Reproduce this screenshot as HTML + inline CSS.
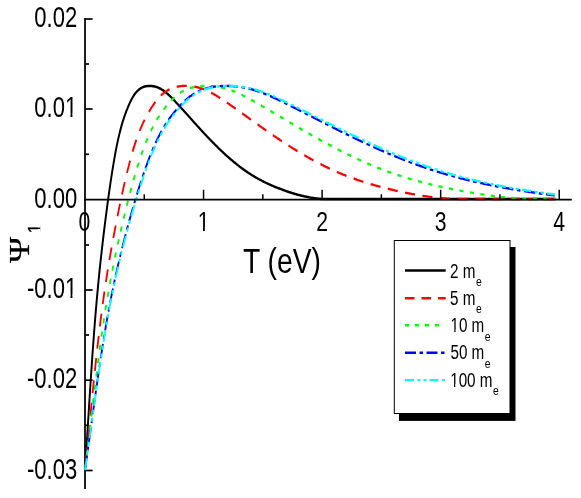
<!DOCTYPE html>
<html><head><meta charset="utf-8"><style>
html,body{margin:0;padding:0;background:#fff;}
svg{display:block;font-family:"Liberation Sans",sans-serif;will-change:transform;}
</style></head><body>
<svg width="581" height="498" viewBox="0 0 581 498">
<rect width="581" height="498" fill="#fff"/>
<g stroke="#000" stroke-width="1.75" fill="none"><line x1="85" y1="18" x2="85" y2="489"/></g>
<g stroke="#000" stroke-width="1.7" fill="none"><line x1="85" y1="19" x2="92.6" y2="19"/><line x1="85" y1="109" x2="92.6" y2="109"/><line x1="85" y1="290" x2="92.6" y2="290"/><line x1="85" y1="380.2" x2="92.6" y2="380.2"/><line x1="85" y1="470.5" x2="92.6" y2="470.5"/><line x1="85" y1="64" x2="89" y2="64"/><line x1="85" y1="154.3" x2="89" y2="154.3"/><line x1="85" y1="245" x2="89" y2="245"/><line x1="85" y1="335" x2="89" y2="335"/><line x1="85" y1="425.3" x2="89" y2="425.3"/></g>
<g fill="none" stroke-width="2.35" stroke-linejoin="round" transform="scale(0.78 1)">
<path d="M108.97 470.0 L109.06 469.0 L109.15 468.0 L109.23 467.0 L109.31 466.0 L109.40 465.0 L109.48 464.0 L109.57 463.0 L109.65 462.0 L109.74 461.0 L109.82 460.0 L109.90 459.0 L109.99 458.0 L110.07 457.0 L110.15 456.0 L110.24 455.0 L110.32 454.0 L110.40 453.0 L110.48 452.0 L110.57 451.0 L110.65 450.0 L110.73 449.0 L110.81 448.0 L110.89 447.0 L110.97 446.0 L111.06 445.0 L111.14 444.0 L111.22 443.0 L111.30 442.0 L111.38 441.0 L111.46 440.0 L111.54 439.0 L111.62 438.0 L111.70 437.0 L111.79 436.0 L111.87 435.0 L111.95 434.0 L112.03 433.0 L112.11 432.0 L112.19 431.0 L112.27 430.0 L112.35 429.0 L112.43 428.0 L112.51 427.0 L112.59 426.0 L112.67 425.0 L112.75 424.0 L112.83 423.0 L112.91 422.0 L112.99 421.0 L113.07 420.0 L113.15 419.0 L113.23 418.0 L113.31 417.0 L113.39 416.0 L113.47 415.0 L113.55 414.0 L113.63 413.0 L113.71 412.0 L113.79 411.0 L113.87 410.0 L113.95 409.0 L114.03 408.0 L114.12 407.0 L114.20 406.0 L114.28 405.0 L114.36 404.0 L114.44 403.0 L114.52 402.0 L114.60 401.0 L114.68 400.0 L114.76 399.0 L114.84 398.0 L114.93 397.0 L115.01 396.0 L115.09 395.0 L115.17 394.0 L115.25 393.0 L115.33 392.0 L115.42 391.0 L115.50 390.0 L115.58 389.0 L115.66 388.0 L115.75 387.0 L115.83 386.0 L115.91 385.0 L116.00 384.0 L116.08 383.0 L116.16 382.0 L116.25 381.0 L116.33 380.0 L116.42 379.0 L116.50 378.0 L116.58 377.0 L116.67 376.0 L116.75 375.0 L116.84 374.0 L116.92 373.0 L117.01 372.0 L117.10 371.0 L117.18 370.0 L117.27 369.0 L117.35 368.0 L117.44 367.0 L117.53 366.0 L117.62 365.0 L117.70 364.0 L117.79 363.0 L117.88 362.0 L117.97 361.0 L118.06 360.0 L118.14 359.0 L118.23 358.0 L118.32 357.0 L118.41 356.0 L118.50 355.0 L118.59 354.0 L118.68 353.0 L118.77 352.0 L118.87 351.0 L118.96 350.0 L119.05 349.0 L119.14 348.0 L119.23 347.0 L119.33 346.0 L119.42 345.0 L119.51 344.0 L119.61 343.0 L119.70 342.0 L119.80 341.0 L119.89 340.0 L119.99 339.0 L120.08 338.0 L120.18 337.0 L120.27 336.0 L120.37 335.0 L120.47 334.0 L120.57 333.0 L120.67 332.0 L120.76 331.0 L120.86 330.0 L120.96 329.0 L121.06 328.0 L121.16 327.0 L121.26 326.0 L121.36 325.0 L121.47 324.0 L121.57 323.0 L121.67 322.0 L121.77 321.0 L121.88 320.0 L121.98 319.0 L122.08 318.0 L122.19 317.0 L122.29 316.0 L122.40 315.0 L122.51 314.0 L122.61 313.0 L122.72 312.0 L122.83 311.0 L122.94 310.0 L123.05 309.0 L123.16 308.0 L123.27 307.0 L123.38 306.0 L123.49 305.0 L123.60 304.0 L123.71 303.0 L123.82 302.0 L123.94 301.0 L124.05 300.0 L124.16 299.0 L124.28 298.0 L124.40 297.0 L124.51 296.0 L124.63 295.0 L124.75 294.0 L124.86 293.0 L124.98 292.0 L125.10 291.0 L125.22 290.0 L125.34 289.0 L125.46 288.0 L125.58 287.0 L125.71 286.0 L125.83 285.0 L125.95 284.0 L126.08 283.0 L126.20 282.0 L126.33 281.0 L126.45 280.0 L126.58 279.0 L126.71 278.0 L126.83 277.0 L126.96 276.0 L127.09 275.0 L127.22 274.0 L127.35 273.0 L127.48 272.0 L127.62 271.0 L127.75 270.0 L127.88 269.0 L128.02 268.0 L128.15 267.0 L128.29 266.0 L128.42 265.0 L128.56 264.0 L128.69 263.0 L128.83 262.0 L128.97 261.0 L129.11 260.0 L129.25 259.0 L129.39 258.0 L129.53 257.0 L129.67 256.0 L129.81 255.0 L129.96 254.0 L130.10 253.0 L130.24 252.0 L130.39 251.0 L130.53 250.0 L130.68 249.0 L130.82 248.0 L130.97 247.0 L131.12 246.0 L131.27 245.0 L131.42 244.0 L131.57 243.0 L131.71 242.0 L131.87 241.0 L132.02 240.0 L132.17 239.0 L132.32 238.0 L132.47 237.0 L132.63 236.0 L132.78 235.0 L132.93 234.0 L133.09 233.0 L133.24 232.0 L133.40 231.0 L133.56 230.0 L133.71 229.0 L133.87 228.0 L134.03 227.0 L134.19 226.0 L134.35 225.0 L134.51 224.0 L134.67 223.0 L134.83 222.0 L134.99 221.0 L135.15 220.0 L135.32 219.0 L135.48 218.0 L135.64 217.0 L135.81 216.0 L135.97 215.0 L136.14 214.0 L136.30 213.0 L136.47 212.0 L136.64 211.0 L136.81 210.0 L136.97 209.0 L137.14 208.0 L137.31 207.0 L137.48 206.0 L137.65 205.0 L137.82 204.0 L138.00 203.0 L138.17 202.0 L138.34 201.0 L138.52 200.0 L138.69 199.0 L138.87 198.0 L139.05 197.0 L139.22 196.0 L139.40 195.0 L139.58 194.0 L139.76 193.0 L139.94 192.0 L140.13 191.0 L140.31 190.0 L140.49 189.0 L140.68 188.0 L140.86 187.0 L141.05 186.0 L141.24 185.0 L141.43 184.0 L141.62 183.0 L141.81 182.0 L142.00 181.0 L142.19 180.0 L142.39 179.0 L142.58 178.0 L142.78 177.0 L142.98 176.0 L143.18 175.0 L143.38 174.0 L143.58 173.0 L143.78 172.0 L143.99 171.0 L144.19 170.0 L144.40 169.0 L144.61 168.0 L144.82 167.0 L145.03 166.0 L145.24 165.0 L145.45 164.0 L145.67 163.0 L145.88 162.0 L146.10 161.0 L146.32 160.0 L146.54 159.0 L146.76 158.0 L146.99 157.0 L147.21 156.0 L147.44 155.0 L147.67 154.0 L147.90 153.0 L148.14 152.0 L148.38 151.0 L148.62 150.0 L148.86 149.0 L149.12 148.0 L149.37 147.0 L149.63 146.0 L149.90 145.0 L150.17 144.0 L150.44 143.0 L150.72 142.0 L151.00 141.0 L151.28 140.0 L151.57 139.0 L151.86 138.0 L152.16 137.0 L152.46 136.0 L152.76 135.0 L153.07 134.0 L153.38 133.0 L153.70 132.0 L154.02 131.0 L154.34 130.0 L154.68 129.0 L155.02 128.0 L155.36 127.0 L155.71 126.0 L156.07 125.0 L156.44 124.0 L156.82 123.0 L157.20 122.0 L157.60 121.0 L158.00 120.0 L158.42 119.0 L158.84 118.0 L159.23 117.1 L159.62 116.2 L160.00 115.4 L160.38 114.6 L160.77 113.7 L161.15 112.9 L161.54 112.1 L161.92 111.3 L162.31 110.5 L162.69 109.8 L163.08 109.0 L163.46 108.3 L163.97 107.3 L164.49 106.3 L165.00 105.4 L165.51 104.5 L166.03 103.6 L166.54 102.7 L167.05 101.9 L167.56 101.0 L168.08 100.2 L168.59 99.5 L169.10 98.7 L169.62 98.0 L170.13 97.3 L170.77 96.5 L171.41 95.7 L172.05 94.9 L172.69 94.2 L173.33 93.5 L173.97 92.9 L174.74 92.2 L175.51 91.5 L176.28 90.9 L177.05 90.3 L177.95 89.7 L178.85 89.1 L179.74 88.7 L180.64 88.2 L181.54 87.8 L182.56 87.4 L183.59 87.1 L184.62 86.8 L185.64 86.6 L186.67 86.3 L187.69 86.2 L188.72 86.1 L189.74 86.0 L190.77 85.9 L191.79 85.9 L192.82 85.9 L193.85 86.0 L194.87 86.1 L195.90 86.2 L196.92 86.3 L197.95 86.4 L198.97 86.6 L200.00 86.9 L201.03 87.1 L202.05 87.4 L203.08 87.7 L204.10 88.1 L205.13 88.5 L206.15 88.9 L207.05 89.3 L207.95 89.8 L208.85 90.2 L209.74 90.7 L210.64 91.2 L211.54 91.8 L212.44 92.3 L213.33 92.9 L214.23 93.5 L215.13 94.1 L215.90 94.6 L216.67 95.2 L217.44 95.8 L218.21 96.3 L218.97 96.9 L219.74 97.5 L220.51 98.1 L221.28 98.7 L222.05 99.3 L222.82 100.0 L223.59 100.6 L224.36 101.2 L225.13 101.9 L225.90 102.5 L226.67 103.2 L227.44 103.8 L228.21 104.5 L228.97 105.1 L229.74 105.8 L230.51 106.4 L231.28 107.1 L232.05 107.7 L232.82 108.4 L233.59 109.1 L234.36 109.7 L235.13 110.4 L235.90 111.1 L236.67 111.7 L237.44 112.4 L238.21 113.1 L238.97 113.7 L239.74 114.4 L240.51 115.1 L241.28 115.7 L242.05 116.4 L242.82 117.1 L243.59 117.7 L244.36 118.4 L245.13 119.1 L245.90 119.7 L246.67 120.4 L247.44 121.1 L248.21 121.8 L248.97 122.4 L249.74 123.1 L250.51 123.8 L251.28 124.4 L252.05 125.1 L252.82 125.8 L253.59 126.4 L254.36 127.1 L255.13 127.7 L255.90 128.4 L256.67 129.1 L257.44 129.7 L258.21 130.4 L258.97 131.0 L259.74 131.7 L260.51 132.3 L261.28 133.0 L262.05 133.6 L262.82 134.3 L263.59 134.9 L264.36 135.5 L265.13 136.2 L265.90 136.8 L266.67 137.4 L267.44 138.1 L268.21 138.7 L268.97 139.3 L269.74 139.9 L270.51 140.6 L271.28 141.2 L272.05 141.8 L272.82 142.4 L273.59 143.0 L274.36 143.6 L275.13 144.2 L275.90 144.8 L276.67 145.4 L277.44 146.0 L278.21 146.6 L278.97 147.2 L279.74 147.8 L280.51 148.4 L281.28 149.0 L282.05 149.5 L282.82 150.1 L283.59 150.7 L284.36 151.3 L285.13 151.8 L285.90 152.4 L286.67 152.9 L287.44 153.5 L288.21 154.1 L288.97 154.6 L289.74 155.2 L290.51 155.7 L291.28 156.2 L292.05 156.8 L292.82 157.3 L293.72 157.9 L294.62 158.5 L295.51 159.1 L296.41 159.7 L297.31 160.3 L298.21 160.9 L299.10 161.5 L300.00 162.1 L300.90 162.7 L301.79 163.2 L302.69 163.8 L303.59 164.4 L304.49 164.9 L305.38 165.5 L306.28 166.0 L307.18 166.6 L308.08 167.1 L308.97 167.6 L309.87 168.1 L310.77 168.7 L311.67 169.2 L312.56 169.7 L313.46 170.2 L314.36 170.7 L315.26 171.2 L316.15 171.6 L317.05 172.1 L317.95 172.6 L318.85 173.0 L319.74 173.5 L320.64 173.9 L321.54 174.4 L322.44 174.8 L323.33 175.3 L324.23 175.7 L325.13 176.1 L326.03 176.5 L326.92 177.0 L327.82 177.4 L328.72 177.8 L329.62 178.2 L330.51 178.6 L331.41 178.9 L332.44 179.4 L333.46 179.8 L334.49 180.2 L335.51 180.7 L336.54 181.1 L337.56 181.5 L338.59 181.9 L339.62 182.3 L340.64 182.7 L341.67 183.1 L342.69 183.4 L343.72 183.8 L344.74 184.2 L345.77 184.5 L346.79 184.9 L347.82 185.3 L348.85 185.6 L349.87 185.9 L350.90 186.3 L351.92 186.6 L352.95 187.0 L353.97 187.3 L355.00 187.6 L356.03 187.9 L357.05 188.2 L358.08 188.5 L359.10 188.8 L360.13 189.1 L361.15 189.4 L362.18 189.7 L363.21 190.0 L364.23 190.3 L365.26 190.6 L366.28 190.9 L367.31 191.2 L368.33 191.4 L369.36 191.7 L370.38 192.0 L371.41 192.2 L372.44 192.5 L373.46 192.7 L374.49 193.0 L375.51 193.2 L376.54 193.5 L377.56 193.7 L378.59 194.0 L379.62 194.2 L380.64 194.4 L381.67 194.7 L382.69 194.9 L383.72 195.1 L384.74 195.3 L385.77 195.5 L386.79 195.7 L387.82 195.9 L388.85 196.1 L389.87 196.3 L390.90 196.4 L391.92 196.6 L392.95 196.8 L393.97 197.0 L395.00 197.1 L396.03 197.3 L397.05 197.4 L398.08 197.6 L399.10 197.7 L400.13 197.8 L401.15 198.0 L402.18 198.1 L403.21 198.2 L404.23 198.3 L405.26 198.4 L406.28 198.5 L407.31 198.6 L408.33 198.7 L409.36 198.8 L410.38 198.8 L411.41 198.9 L412.44 198.9 L413.46 199.0 L413.46 199.0 L712.05 199.0" stroke="#000" stroke-width="2.5"/>
<path d="M108.97 470.0 L109.11 469.0 L109.24 468.0 L109.37 467.0 L109.50 466.0 L109.64 465.0 L109.77 464.0 L109.90 463.0 L110.03 462.0 L110.16 461.0 L110.29 460.0 L110.42 459.0 L110.55 458.0 L110.68 457.0 L110.81 456.0 L110.94 455.0 L111.06 454.0 L111.19 453.0 L111.32 452.0 L111.45 451.0 L111.58 450.0 L111.70 449.0 L111.83 448.0 L111.96 447.0 L112.08 446.0 L112.21 445.0 L112.34 444.0 L112.46 443.0 L112.59 442.0 L112.72 441.0 L112.84 440.0 L112.97 439.0 L113.09 438.0 L113.22 437.0 L113.35 436.0 L113.47 435.0 L113.60 434.0 L113.72 433.0 L113.85 432.0 L113.97 431.0 L114.10 430.0 L114.22 429.0 L114.35 428.0 L114.47 427.0 L114.60 426.0 L114.72 425.0 L114.84 424.0 L114.97 423.0 L115.09 422.0 L115.22 421.0 L115.34 420.0 L115.47 419.0 L115.59 418.0 L115.72 417.0 L115.84 416.0 L115.97 415.0 L116.09 414.0 L116.22 413.0 L116.34 412.0 L116.47 411.0 L116.59 410.0 L116.72 409.0 L116.84 408.0 L116.97 407.0 L117.09 406.0 L117.22 405.0 L117.34 404.0 L117.47 403.0 L117.60 402.0 L117.72 401.0 L117.85 400.0 L117.98 399.0 L118.10 398.0 L118.23 397.0 L118.36 396.0 L118.48 395.0 L118.61 394.0 L118.74 393.0 L118.86 392.0 L118.99 391.0 L119.12 390.0 L119.25 389.0 L119.38 388.0 L119.51 387.0 L119.63 386.0 L119.76 385.0 L119.89 384.0 L120.02 383.0 L120.15 382.0 L120.28 381.0 L120.41 380.0 L120.54 379.0 L120.68 378.0 L120.81 377.0 L120.94 376.0 L121.07 375.0 L121.20 374.0 L121.34 373.0 L121.47 372.0 L121.60 371.0 L121.74 370.0 L121.87 369.0 L122.01 368.0 L122.14 367.0 L122.28 366.0 L122.41 365.0 L122.55 364.0 L122.68 363.0 L122.82 362.0 L122.96 361.0 L123.10 360.0 L123.23 359.0 L123.37 358.0 L123.51 357.0 L123.65 356.0 L123.79 355.0 L123.93 354.0 L124.07 353.0 L124.21 352.0 L124.35 351.0 L124.50 350.0 L124.64 349.0 L124.78 348.0 L124.93 347.0 L125.07 346.0 L125.22 345.0 L125.36 344.0 L125.51 343.0 L125.65 342.0 L125.80 341.0 L125.95 340.0 L126.10 339.0 L126.25 338.0 L126.40 337.0 L126.55 336.0 L126.70 335.0 L126.85 334.0 L127.00 333.0 L127.15 332.0 L127.31 331.0 L127.46 330.0 L127.62 329.0 L127.77 328.0 L127.93 327.0 L128.08 326.0 L128.24 325.0 L128.40 324.0 L128.56 323.0 L128.72 322.0 L128.88 321.0 L129.04 320.0 L129.20 319.0 L129.36 318.0 L129.52 317.0 L129.69 316.0 L129.85 315.0 L130.02 314.0 L130.18 313.0 L130.35 312.0 L130.52 311.0 L130.69 310.0 L130.86 309.0 L131.03 308.0 L131.20 307.0 L131.37 306.0 L131.54 305.0 L131.72 304.0 L131.89 303.0 L132.06 302.0 L132.24 301.0 L132.42 300.0 L132.60 299.0 L132.77 298.0 L132.95 297.0 L133.13 296.0 L133.32 295.0 L133.50 294.0 L133.68 293.0 L133.87 292.0 L134.05 291.0 L134.24 290.0 L134.42 289.0 L134.61 288.0 L134.80 287.0 L134.99 286.0 L135.18 285.0 L135.37 284.0 L135.57 283.0 L135.76 282.0 L135.96 281.0 L136.15 280.0 L136.35 279.0 L136.55 278.0 L136.75 277.0 L136.95 276.0 L137.15 275.0 L137.35 274.0 L137.55 273.0 L137.76 272.0 L137.96 271.0 L138.17 270.0 L138.38 269.0 L138.58 268.0 L138.79 267.0 L139.00 266.0 L139.21 265.0 L139.43 264.0 L139.64 263.0 L139.85 262.0 L140.07 261.0 L140.28 260.0 L140.50 259.0 L140.72 258.0 L140.94 257.0 L141.16 256.0 L141.38 255.0 L141.60 254.0 L141.82 253.0 L142.05 252.0 L142.27 251.0 L142.50 250.0 L142.72 249.0 L142.95 248.0 L143.18 247.0 L143.41 246.0 L143.64 245.0 L143.87 244.0 L144.10 243.0 L144.34 242.0 L144.57 241.0 L144.80 240.0 L145.04 239.0 L145.28 238.0 L145.51 237.0 L145.75 236.0 L145.99 235.0 L146.23 234.0 L146.47 233.0 L146.71 232.0 L146.96 231.0 L147.20 230.0 L147.45 229.0 L147.69 228.0 L147.94 227.0 L148.18 226.0 L148.43 225.0 L148.68 224.0 L148.93 223.0 L149.18 222.0 L149.43 221.0 L149.68 220.0 L149.94 219.0 L150.19 218.0 L150.45 217.0 L150.70 216.0 L150.96 215.0 L151.21 214.0 L151.47 213.0 L151.73 212.0 L151.99 211.0 L152.25 210.0 L152.51 209.0 L152.78 208.0 L153.04 207.0 L153.30 206.0 L153.57 205.0 L153.84 204.0 L154.10 203.0 L154.37 202.0 L154.64 201.0 L154.91 200.0 L155.19 199.0 L155.46 198.0 L155.74 197.0 L156.01 196.0 L156.29 195.0 L156.57 194.0 L156.85 193.0 L157.13 192.0 L157.41 191.0 L157.70 190.0 L157.99 189.0 L158.27 188.0 L158.56 187.0 L158.85 186.0 L159.15 185.0 L159.44 184.0 L159.73 183.0 L160.03 182.0 L160.33 181.0 L160.63 180.0 L160.93 179.0 L161.24 178.0 L161.54 177.0 L161.85 176.0 L162.16 175.0 L162.47 174.0 L162.79 173.0 L163.10 172.0 L163.42 171.0 L163.74 170.0 L164.06 169.0 L164.38 168.0 L164.71 167.0 L165.04 166.0 L165.37 165.0 L165.70 164.0 L166.03 163.0 L166.37 162.0 L166.71 161.0 L167.05 160.0 L167.39 159.0 L167.74 158.0 L168.08 157.0 L168.43 156.0 L168.79 155.0 L169.15 154.0 L169.51 153.0 L169.88 152.0 L170.25 151.0 L170.62 150.0 L171.00 149.0 L171.39 148.0 L171.79 147.0 L172.20 146.0 L172.61 145.0 L173.03 144.0 L173.45 143.0 L173.88 142.0 L174.32 141.0 L174.76 140.0 L175.21 139.0 L175.66 138.0 L176.12 137.0 L176.59 136.0 L177.06 135.0 L177.42 134.2 L177.78 133.5 L178.15 132.8 L178.52 132.0 L178.89 131.2 L179.27 130.5 L179.65 129.8 L180.04 129.0 L180.44 128.2 L180.84 127.5 L181.24 126.8 L181.65 126.0 L182.07 125.2 L182.50 124.5 L182.93 123.8 L183.37 123.0 L183.82 122.2 L184.28 121.5 L184.74 120.8 L185.21 120.0 L185.70 119.2 L186.19 118.5 L186.72 117.7 L187.32 116.8 L187.92 116.0 L188.52 115.1 L189.12 114.3 L189.71 113.5 L190.31 112.6 L190.91 111.9 L191.51 111.1 L192.11 110.3 L192.71 109.5 L193.30 108.8 L193.90 108.0 L194.50 107.3 L195.10 106.6 L195.70 105.9 L196.29 105.2 L196.89 104.5 L197.49 103.8 L198.09 103.1 L198.89 102.3 L199.68 101.4 L200.48 100.6 L201.28 99.8 L202.08 99.1 L202.87 98.3 L203.67 97.6 L204.47 97.0 L205.26 96.3 L206.06 95.7 L206.86 95.1 L207.66 94.5 L208.45 93.9 L209.25 93.4 L210.05 92.9 L211.05 92.3 L212.04 91.7 L213.04 91.2 L214.04 90.7 L215.03 90.2 L216.03 89.8 L217.03 89.4 L218.02 89.0 L219.02 88.7 L220.02 88.3 L221.01 88.0 L222.01 87.8 L223.01 87.5 L224.00 87.3 L225.00 87.1 L226.20 86.9 L227.39 86.7 L228.59 86.5 L229.79 86.3 L230.98 86.2 L232.18 86.1 L233.37 86.0 L234.57 86.0 L235.77 85.9 L236.96 85.9 L238.16 85.9 L239.36 85.9 L240.55 86.0 L241.75 86.0 L242.94 86.1 L244.14 86.2 L245.34 86.2 L246.53 86.4 L247.73 86.5 L248.92 86.6 L250.12 86.8 L251.32 87.0 L252.51 87.2 L253.71 87.4 L254.71 87.6 L255.70 87.8 L256.70 88.1 L257.70 88.3 L258.69 88.5 L259.69 88.8 L260.69 89.1 L261.68 89.4 L262.68 89.7 L263.68 90.0 L264.67 90.4 L265.67 90.7 L266.67 91.1 L267.66 91.4 L268.66 91.8 L269.66 92.2 L270.65 92.6 L271.65 93.1 L272.65 93.5 L273.64 93.9 L274.64 94.4 L275.64 94.8 L276.64 95.3 L277.63 95.8 L278.63 96.2 L279.63 96.7 L280.62 97.2 L281.62 97.7 L282.62 98.2 L283.61 98.7 L284.61 99.2 L285.61 99.8 L286.60 100.3 L287.60 100.8 L288.60 101.3 L289.59 101.9 L290.59 102.4 L291.59 103.0 L292.58 103.5 L293.58 104.0 L294.58 104.6 L295.57 105.1 L296.57 105.7 L297.57 106.2 L298.56 106.8 L299.56 107.3 L300.56 107.9 L301.56 108.4 L302.55 109.0 L303.55 109.5 L304.55 110.1 L305.54 110.6 L306.54 111.2 L307.54 111.7 L308.53 112.3 L309.53 112.8 L310.53 113.4 L311.52 113.9 L312.52 114.5 L313.52 115.1 L314.51 115.6 L315.51 116.2 L316.51 116.7 L317.50 117.3 L318.50 117.8 L319.50 118.4 L320.49 119.0 L321.49 119.5 L322.49 120.1 L323.48 120.6 L324.48 121.2 L325.48 121.8 L326.48 122.3 L327.47 122.9 L328.47 123.4 L329.47 124.0 L330.46 124.5 L331.46 125.1 L332.46 125.6 L333.45 126.2 L334.45 126.7 L335.45 127.3 L336.44 127.8 L337.44 128.4 L338.44 128.9 L339.43 129.5 L340.43 130.0 L341.43 130.6 L342.42 131.1 L343.42 131.7 L344.42 132.2 L345.41 132.8 L346.41 133.3 L347.41 133.8 L348.40 134.4 L349.40 134.9 L350.40 135.4 L351.39 136.0 L352.39 136.5 L353.39 137.0 L354.39 137.5 L355.38 138.1 L356.38 138.6 L357.38 139.1 L358.37 139.6 L359.37 140.2 L360.37 140.7 L361.36 141.2 L362.36 141.7 L363.36 142.2 L364.35 142.7 L365.35 143.2 L366.35 143.7 L367.34 144.2 L368.34 144.7 L369.34 145.2 L370.33 145.7 L371.33 146.2 L372.33 146.7 L373.32 147.2 L374.32 147.7 L375.32 148.2 L376.31 148.7 L377.31 149.2 L378.31 149.6 L379.31 150.1 L380.30 150.6 L381.30 151.1 L382.30 151.5 L383.29 152.0 L384.29 152.5 L385.29 152.9 L386.28 153.4 L387.28 153.9 L388.28 154.3 L389.27 154.8 L390.27 155.2 L391.27 155.7 L392.26 156.1 L393.26 156.6 L394.26 157.0 L395.25 157.5 L396.25 157.9 L397.25 158.4 L398.24 158.8 L399.24 159.2 L400.24 159.7 L401.23 160.1 L402.23 160.5 L403.23 160.9 L404.23 161.4 L405.22 161.8 L406.22 162.2 L407.22 162.6 L408.21 163.0 L409.21 163.4 L410.21 163.8 L411.20 164.2 L412.20 164.6 L413.20 165.0 L414.19 165.4 L415.19 165.8 L416.19 166.2 L417.18 166.6 L418.18 166.9 L419.18 167.3 L420.17 167.7 L421.17 168.1 L422.17 168.4 L423.16 168.8 L424.16 169.2 L425.16 169.5 L426.15 169.9 L427.15 170.2 L428.15 170.6 L429.14 170.9 L430.14 171.3 L431.14 171.6 L432.14 172.0 L433.13 172.3 L434.13 172.6 L435.13 173.0 L436.12 173.3 L437.12 173.6 L438.12 173.9 L439.11 174.3 L440.11 174.6 L441.11 174.9 L442.10 175.2 L443.10 175.5 L444.10 175.8 L445.09 176.1 L446.09 176.4 L447.09 176.7 L448.08 177.0 L449.08 177.3 L450.08 177.6 L451.07 177.9 L452.07 178.2 L453.07 178.4 L454.06 178.7 L455.06 179.0 L456.06 179.3 L457.06 179.5 L458.05 179.8 L459.05 180.1 L460.05 180.3 L461.04 180.6 L462.04 180.9 L463.04 181.1 L464.03 181.4 L465.03 181.6 L466.03 181.9 L467.02 182.1 L468.02 182.4 L469.02 182.6 L470.01 182.9 L471.01 183.1 L472.01 183.3 L473.00 183.6 L474.00 183.8 L475.00 184.0 L475.99 184.3 L476.99 184.5 L477.99 184.7 L478.98 184.9 L479.98 185.2 L480.98 185.4 L481.98 185.6 L482.97 185.8 L483.97 186.0 L484.97 186.2 L485.96 186.5 L486.96 186.7 L487.96 186.9 L488.95 187.1 L489.95 187.3 L490.95 187.5 L491.94 187.7 L492.94 187.9 L493.94 188.1 L494.93 188.3 L495.93 188.5 L496.93 188.7 L497.92 188.8 L498.92 189.0 L500.12 189.3 L501.31 189.5 L502.51 189.7 L503.71 189.9 L504.90 190.1 L506.10 190.4 L507.29 190.6 L508.49 190.8 L509.69 191.0 L510.88 191.2 L512.08 191.4 L513.27 191.6 L514.47 191.8 L515.67 192.0 L516.86 192.2 L518.06 192.4 L519.26 192.6 L520.45 192.8 L521.65 193.0 L522.84 193.2 L524.04 193.3 L525.24 193.5 L526.43 193.7 L527.63 193.9 L528.82 194.1 L530.02 194.2 L531.22 194.4 L532.41 194.6 L533.61 194.7 L534.81 194.9 L536.00 195.1 L537.20 195.2 L538.39 195.4 L539.59 195.5 L540.79 195.7 L541.98 195.8 L543.18 196.0 L544.37 196.1 L545.57 196.2 L546.77 196.4 L547.96 196.5 L549.16 196.6 L550.36 196.8 L551.55 196.9 L552.75 197.0 L553.94 197.1 L555.14 197.3 L556.34 197.4 L557.53 197.5 L558.73 197.6 L559.92 197.7 L561.12 197.8 L562.32 197.9 L563.51 198.0 L564.71 198.1 L565.91 198.2 L567.10 198.2 L568.30 198.3 L569.49 198.4 L570.69 198.5 L571.89 198.5 L573.08 198.6 L574.28 198.7 L575.47 198.7 L576.67 198.8 L577.87 198.8 L579.06 198.9 L580.26 198.9 L581.46 199.0 L582.45 199.0 L712.05 199.0" stroke="#f00" stroke-dasharray="12.9 9.6" stroke-dashoffset="-9.9"/>
<path d="M108.97 470.0 L109.13 469.0 L109.29 468.0 L109.45 467.0 L109.61 466.0 L109.77 465.0 L109.93 464.0 L110.09 463.0 L110.25 462.0 L110.40 461.0 L110.56 460.0 L110.72 459.0 L110.87 458.0 L111.03 457.0 L111.18 456.0 L111.34 455.0 L111.49 454.0 L111.65 453.0 L111.80 452.0 L111.96 451.0 L112.11 450.0 L112.26 449.0 L112.42 448.0 L112.57 447.0 L112.72 446.0 L112.88 445.0 L113.03 444.0 L113.18 443.0 L113.33 442.0 L113.49 441.0 L113.64 440.0 L113.79 439.0 L113.94 438.0 L114.09 437.0 L114.24 436.0 L114.40 435.0 L114.55 434.0 L114.70 433.0 L114.85 432.0 L115.00 431.0 L115.15 430.0 L115.30 429.0 L115.45 428.0 L115.60 427.0 L115.75 426.0 L115.90 425.0 L116.05 424.0 L116.20 423.0 L116.35 422.0 L116.50 421.0 L116.65 420.0 L116.80 419.0 L116.96 418.0 L117.11 417.0 L117.26 416.0 L117.41 415.0 L117.56 414.0 L117.71 413.0 L117.86 412.0 L118.01 411.0 L118.16 410.0 L118.31 409.0 L118.46 408.0 L118.61 407.0 L118.76 406.0 L118.92 405.0 L119.07 404.0 L119.22 403.0 L119.37 402.0 L119.52 401.0 L119.68 400.0 L119.83 399.0 L119.98 398.0 L120.13 397.0 L120.29 396.0 L120.44 395.0 L120.59 394.0 L120.75 393.0 L120.90 392.0 L121.05 391.0 L121.21 390.0 L121.36 389.0 L121.52 388.0 L121.67 387.0 L121.83 386.0 L121.98 385.0 L122.14 384.0 L122.30 383.0 L122.45 382.0 L122.61 381.0 L122.77 380.0 L122.93 379.0 L123.08 378.0 L123.24 377.0 L123.40 376.0 L123.56 375.0 L123.72 374.0 L123.88 373.0 L124.04 372.0 L124.20 371.0 L124.36 370.0 L124.52 369.0 L124.69 368.0 L124.85 367.0 L125.01 366.0 L125.18 365.0 L125.34 364.0 L125.50 363.0 L125.67 362.0 L125.84 361.0 L126.00 360.0 L126.17 359.0 L126.33 358.0 L126.50 357.0 L126.67 356.0 L126.84 355.0 L127.01 354.0 L127.18 353.0 L127.35 352.0 L127.52 351.0 L127.69 350.0 L127.86 349.0 L128.04 348.0 L128.21 347.0 L128.38 346.0 L128.56 345.0 L128.73 344.0 L128.91 343.0 L129.09 342.0 L129.26 341.0 L129.44 340.0 L129.62 339.0 L129.80 338.0 L129.98 337.0 L130.16 336.0 L130.34 335.0 L130.53 334.0 L130.71 333.0 L130.89 332.0 L131.08 331.0 L131.26 330.0 L131.45 329.0 L131.64 328.0 L131.83 327.0 L132.02 326.0 L132.20 325.0 L132.40 324.0 L132.59 323.0 L132.78 322.0 L132.97 321.0 L133.17 320.0 L133.36 319.0 L133.56 318.0 L133.75 317.0 L133.95 316.0 L134.15 315.0 L134.35 314.0 L134.55 313.0 L134.75 312.0 L134.95 311.0 L135.16 310.0 L135.36 309.0 L135.56 308.0 L135.77 307.0 L135.98 306.0 L136.19 305.0 L136.39 304.0 L136.61 303.0 L136.82 302.0 L137.03 301.0 L137.24 300.0 L137.46 299.0 L137.67 298.0 L137.89 297.0 L138.11 296.0 L138.32 295.0 L138.54 294.0 L138.77 293.0 L138.99 292.0 L139.21 291.0 L139.44 290.0 L139.66 289.0 L139.89 288.0 L140.12 287.0 L140.34 286.0 L140.57 285.0 L140.81 284.0 L141.04 283.0 L141.27 282.0 L141.51 281.0 L141.74 280.0 L141.98 279.0 L142.22 278.0 L142.46 277.0 L142.70 276.0 L142.94 275.0 L143.19 274.0 L143.43 273.0 L143.68 272.0 L143.93 271.0 L144.18 270.0 L144.43 269.0 L144.68 268.0 L144.93 267.0 L145.18 266.0 L145.44 265.0 L145.69 264.0 L145.95 263.0 L146.21 262.0 L146.47 261.0 L146.73 260.0 L146.99 259.0 L147.25 258.0 L147.52 257.0 L147.78 256.0 L148.05 255.0 L148.32 254.0 L148.58 253.0 L148.85 252.0 L149.12 251.0 L149.40 250.0 L149.67 249.0 L149.94 248.0 L150.22 247.0 L150.50 246.0 L150.77 245.0 L151.05 244.0 L151.33 243.0 L151.61 242.0 L151.89 241.0 L152.18 240.0 L152.46 239.0 L152.75 238.0 L153.03 237.0 L153.32 236.0 L153.61 235.0 L153.90 234.0 L154.19 233.0 L154.48 232.0 L154.77 231.0 L155.07 230.0 L155.36 229.0 L155.66 228.0 L155.96 227.0 L156.25 226.0 L156.55 225.0 L156.85 224.0 L157.15 223.0 L157.46 222.0 L157.76 221.0 L158.06 220.0 L158.37 219.0 L158.67 218.0 L158.98 217.0 L159.29 216.0 L159.60 215.0 L159.91 214.0 L160.22 213.0 L160.53 212.0 L160.84 211.0 L161.16 210.0 L161.47 209.0 L161.79 208.0 L162.11 207.0 L162.43 206.0 L162.75 205.0 L163.07 204.0 L163.39 203.0 L163.72 202.0 L164.04 201.0 L164.37 200.0 L164.70 199.0 L165.03 198.0 L165.36 197.0 L165.69 196.0 L166.03 195.0 L166.36 194.0 L166.70 193.0 L167.04 192.0 L167.38 191.0 L167.73 190.0 L168.07 189.0 L168.42 188.0 L168.77 187.0 L169.12 186.0 L169.47 185.0 L169.82 184.0 L170.18 183.0 L170.54 182.0 L170.90 181.0 L171.26 180.0 L171.63 179.0 L171.99 178.0 L172.36 177.0 L172.73 176.0 L173.11 175.0 L173.48 174.0 L173.86 173.0 L174.24 172.0 L174.62 171.0 L175.01 170.0 L175.40 169.0 L175.79 168.0 L176.18 167.0 L176.57 166.0 L176.97 165.0 L177.37 164.0 L177.77 163.0 L178.18 162.0 L178.59 161.0 L179.00 160.0 L179.41 159.0 L179.83 158.0 L180.25 157.0 L180.67 156.0 L181.10 155.0 L181.53 154.0 L181.97 153.0 L182.41 152.0 L182.86 151.0 L183.31 150.0 L183.77 149.0 L184.24 148.0 L184.60 147.2 L184.96 146.5 L185.33 145.8 L185.70 145.0 L186.08 144.2 L186.46 143.5 L186.85 142.8 L187.24 142.0 L187.63 141.2 L188.03 140.5 L188.43 139.8 L188.84 139.0 L189.25 138.2 L189.66 137.5 L190.08 136.8 L190.50 136.0 L190.93 135.2 L191.36 134.5 L191.79 133.8 L192.23 133.0 L192.68 132.2 L193.13 131.5 L193.58 130.8 L194.04 130.0 L194.51 129.2 L194.98 128.5 L195.46 127.8 L195.95 127.0 L196.44 126.2 L196.94 125.5 L197.45 124.8 L197.97 124.0 L198.50 123.2 L199.04 122.5 L199.59 121.8 L200.14 121.0 L200.71 120.2 L201.29 119.5 L201.88 118.8 L202.48 118.0 L203.21 117.1 L203.93 116.2 L204.65 115.4 L205.37 114.6 L206.09 113.7 L206.81 112.9 L207.53 112.1 L208.25 111.3 L208.97 110.5 L209.70 109.8 L210.42 109.0 L211.14 108.3 L211.86 107.5 L212.58 106.8 L213.30 106.1 L214.02 105.4 L214.74 104.7 L215.46 104.0 L216.19 103.4 L216.91 102.7 L217.63 102.1 L218.35 101.4 L219.07 100.8 L219.79 100.2 L220.51 99.6 L221.47 98.9 L222.44 98.2 L223.40 97.5 L224.36 96.8 L225.32 96.1 L226.28 95.5 L227.24 94.9 L228.21 94.3 L229.17 93.8 L230.13 93.3 L231.09 92.8 L232.05 92.3 L233.01 91.8 L233.97 91.4 L234.94 91.0 L235.90 90.6 L236.86 90.2 L237.82 89.9 L238.78 89.5 L239.74 89.2 L240.71 88.9 L241.91 88.6 L243.11 88.3 L244.31 88.0 L245.51 87.7 L246.71 87.5 L247.92 87.2 L249.12 87.0 L250.32 86.9 L251.52 86.7 L252.72 86.6 L253.93 86.4 L255.13 86.3 L256.33 86.2 L257.53 86.1 L258.73 86.1 L259.94 86.0 L261.14 86.0 L262.34 85.9 L263.54 85.9 L264.74 85.9 L265.95 85.9 L267.15 86.0 L268.35 86.0 L269.55 86.0 L270.75 86.1 L271.96 86.2 L273.16 86.2 L274.36 86.3 L275.56 86.4 L276.76 86.5 L277.96 86.7 L279.17 86.8 L280.37 87.0 L281.57 87.1 L282.77 87.3 L283.97 87.5 L285.18 87.7 L286.38 87.9 L287.58 88.1 L288.78 88.4 L289.98 88.6 L291.19 88.9 L292.39 89.2 L293.59 89.5 L294.79 89.8 L295.99 90.2 L297.20 90.5 L298.16 90.8 L299.12 91.1 L300.08 91.4 L301.04 91.7 L302.00 92.0 L302.96 92.3 L303.93 92.6 L304.89 93.0 L305.85 93.3 L306.81 93.7 L307.77 94.0 L308.73 94.4 L309.70 94.7 L310.66 95.1 L311.62 95.5 L312.58 95.9 L313.54 96.2 L314.50 96.6 L315.46 97.0 L316.43 97.4 L317.39 97.8 L318.35 98.2 L319.31 98.6 L320.27 99.0 L321.23 99.5 L322.20 99.9 L323.16 100.3 L324.12 100.7 L325.08 101.1 L326.04 101.6 L327.00 102.0 L327.96 102.4 L328.93 102.8 L329.89 103.3 L330.85 103.7 L331.81 104.1 L332.77 104.6 L333.73 105.0 L334.70 105.4 L335.66 105.9 L336.62 106.3 L337.58 106.8 L338.54 107.2 L339.50 107.6 L340.46 108.1 L341.43 108.5 L342.39 109.0 L343.35 109.4 L344.31 109.8 L345.27 110.3 L346.23 110.7 L347.20 111.2 L348.16 111.6 L349.12 112.1 L350.08 112.5 L351.04 112.9 L352.00 113.4 L352.96 113.8 L353.93 114.3 L354.89 114.7 L355.85 115.2 L356.81 115.6 L357.77 116.1 L358.73 116.5 L359.70 117.0 L360.66 117.4 L361.62 117.8 L362.58 118.3 L363.54 118.7 L364.50 119.2 L365.46 119.6 L366.43 120.1 L367.39 120.5 L368.35 121.0 L369.31 121.4 L370.27 121.9 L371.23 122.3 L372.20 122.8 L373.16 123.2 L374.12 123.6 L375.08 124.1 L376.04 124.5 L377.00 125.0 L377.96 125.4 L378.93 125.9 L379.89 126.3 L380.85 126.7 L381.81 127.2 L382.77 127.6 L383.73 128.1 L384.70 128.5 L385.66 128.9 L386.62 129.4 L387.58 129.8 L388.54 130.3 L389.50 130.7 L390.46 131.1 L391.43 131.6 L392.39 132.0 L393.35 132.4 L394.31 132.9 L395.27 133.3 L396.23 133.7 L397.20 134.2 L398.16 134.6 L399.12 135.0 L400.08 135.4 L401.04 135.9 L402.00 136.3 L402.96 136.7 L403.93 137.1 L404.89 137.5 L405.85 138.0 L406.81 138.4 L407.77 138.8 L408.73 139.2 L409.70 139.6 L410.66 140.1 L411.62 140.5 L412.58 140.9 L413.54 141.3 L414.50 141.7 L415.46 142.1 L416.43 142.5 L417.39 142.9 L418.35 143.3 L419.31 143.7 L420.27 144.1 L421.23 144.5 L422.20 144.9 L423.16 145.3 L424.12 145.7 L425.08 146.1 L426.04 146.5 L427.00 146.9 L427.96 147.3 L428.93 147.7 L429.89 148.1 L430.85 148.5 L431.81 148.9 L432.77 149.3 L433.73 149.6 L434.70 150.0 L435.66 150.4 L436.62 150.8 L437.58 151.2 L438.54 151.5 L439.50 151.9 L440.46 152.3 L441.43 152.7 L442.39 153.0 L443.35 153.4 L444.31 153.8 L445.27 154.1 L446.23 154.5 L447.20 154.9 L448.16 155.2 L449.12 155.6 L450.08 156.0 L451.04 156.3 L452.00 156.7 L452.96 157.0 L453.93 157.4 L454.89 157.7 L455.85 158.1 L456.81 158.4 L457.77 158.8 L458.73 159.1 L459.70 159.5 L460.66 159.8 L461.62 160.2 L462.58 160.5 L463.54 160.8 L464.50 161.2 L465.46 161.5 L466.43 161.9 L467.39 162.2 L468.35 162.5 L469.31 162.8 L470.27 163.2 L471.23 163.5 L472.20 163.8 L473.16 164.1 L474.12 164.5 L475.08 164.8 L476.04 165.1 L477.00 165.4 L477.96 165.7 L478.93 166.0 L479.89 166.3 L480.85 166.6 L481.81 166.9 L482.77 167.2 L483.73 167.6 L484.70 167.8 L485.66 168.1 L486.62 168.4 L487.58 168.7 L488.54 169.0 L489.50 169.3 L490.46 169.6 L491.43 169.9 L492.39 170.2 L493.35 170.5 L494.31 170.7 L495.51 171.1 L496.71 171.4 L497.92 171.8 L499.12 172.1 L500.32 172.4 L501.52 172.8 L502.72 173.1 L503.93 173.4 L505.13 173.8 L506.33 174.1 L507.53 174.4 L508.73 174.7 L509.94 175.0 L511.14 175.3 L512.34 175.6 L513.54 175.9 L514.74 176.2 L515.95 176.5 L517.15 176.8 L518.35 177.1 L519.55 177.4 L520.75 177.7 L521.96 178.0 L523.16 178.3 L524.36 178.6 L525.56 178.8 L526.76 179.1 L527.96 179.4 L529.17 179.7 L530.37 179.9 L531.57 180.2 L532.77 180.5 L533.97 180.7 L535.18 181.0 L536.38 181.2 L537.58 181.5 L538.78 181.7 L539.98 182.0 L541.19 182.2 L542.39 182.5 L543.59 182.7 L544.79 183.0 L545.99 183.2 L547.20 183.4 L548.40 183.7 L549.60 183.9 L550.80 184.1 L552.00 184.4 L553.21 184.6 L554.41 184.8 L555.61 185.0 L556.81 185.3 L558.01 185.5 L559.21 185.7 L560.42 185.9 L561.62 186.1 L562.82 186.3 L564.02 186.5 L565.22 186.7 L566.43 187.0 L567.63 187.2 L568.83 187.4 L570.03 187.6 L571.23 187.8 L572.44 188.0 L573.64 188.2 L574.84 188.3 L576.04 188.5 L577.24 188.7 L578.45 188.9 L579.65 189.1 L580.85 189.3 L582.05 189.5 L583.25 189.7 L584.46 189.9 L585.66 190.0 L586.86 190.2 L588.06 190.4 L589.26 190.6 L590.46 190.7 L591.67 190.9 L592.87 191.1 L594.07 191.3 L595.27 191.4 L596.47 191.6 L597.68 191.8 L598.88 191.9 L600.08 192.1 L601.28 192.3 L602.48 192.4 L603.69 192.6 L604.89 192.7 L606.09 192.9 L607.29 193.1 L608.49 193.2 L609.70 193.4 L610.90 193.5 L612.10 193.7 L613.30 193.8 L614.50 194.0 L615.71 194.1 L616.91 194.3 L618.11 194.4 L619.31 194.5 L620.51 194.7 L621.71 194.8 L622.92 194.9 L624.12 195.1 L625.32 195.2 L626.52 195.3 L627.72 195.5 L628.93 195.6 L630.13 195.7 L631.33 195.8 L632.53 196.0 L633.73 196.1 L634.94 196.2 L636.14 196.3 L637.34 196.4 L638.54 196.5 L639.74 196.6 L640.95 196.8 L642.15 196.9 L643.35 197.0 L644.55 197.1 L645.75 197.2 L646.96 197.3 L648.16 197.3 L649.36 197.4 L650.56 197.5 L651.76 197.6 L652.96 197.7 L654.17 197.8 L655.37 197.9 L656.57 197.9 L657.77 198.0 L658.97 198.1 L660.18 198.2 L661.38 198.2 L662.58 198.3 L663.78 198.4 L664.98 198.4 L666.19 198.5 L667.39 198.5 L668.59 198.6 L669.79 198.7 L670.99 198.7 L672.20 198.8 L673.40 198.8 L674.60 198.8 L675.80 198.9 L677.00 198.9 L678.21 199.0 L679.41 199.0 L679.89 199.0 L712.05 199.0" stroke="#0f0" stroke-dasharray="5.3 8.2"/>
<path d="M108.97 470.0 L109.16 469.0 L109.35 468.0 L109.53 467.0 L109.72 466.0 L109.90 465.0 L110.08 464.0 L110.27 463.0 L110.45 462.0 L110.63 461.0 L110.82 460.0 L111.00 459.0 L111.18 458.0 L111.36 457.0 L111.54 456.0 L111.72 455.0 L111.90 454.0 L112.08 453.0 L112.26 452.0 L112.44 451.0 L112.62 450.0 L112.80 449.0 L112.98 448.0 L113.16 447.0 L113.33 446.0 L113.51 445.0 L113.69 444.0 L113.87 443.0 L114.04 442.0 L114.22 441.0 L114.40 440.0 L114.57 439.0 L114.75 438.0 L114.93 437.0 L115.10 436.0 L115.28 435.0 L115.45 434.0 L115.63 433.0 L115.80 432.0 L115.98 431.0 L116.15 430.0 L116.33 429.0 L116.50 428.0 L116.68 427.0 L116.85 426.0 L117.03 425.0 L117.20 424.0 L117.38 423.0 L117.55 422.0 L117.73 421.0 L117.90 420.0 L118.08 419.0 L118.25 418.0 L118.43 417.0 L118.60 416.0 L118.78 415.0 L118.95 414.0 L119.13 413.0 L119.30 412.0 L119.48 411.0 L119.65 410.0 L119.83 409.0 L120.01 408.0 L120.18 407.0 L120.36 406.0 L120.53 405.0 L120.71 404.0 L120.89 403.0 L121.06 402.0 L121.24 401.0 L121.42 400.0 L121.59 399.0 L121.77 398.0 L121.95 397.0 L122.13 396.0 L122.30 395.0 L122.48 394.0 L122.66 393.0 L122.84 392.0 L123.02 391.0 L123.20 390.0 L123.38 389.0 L123.56 388.0 L123.74 387.0 L123.92 386.0 L124.10 385.0 L124.28 384.0 L124.46 383.0 L124.65 382.0 L124.83 381.0 L125.01 380.0 L125.20 379.0 L125.38 378.0 L125.56 377.0 L125.75 376.0 L125.93 375.0 L126.12 374.0 L126.30 373.0 L126.49 372.0 L126.68 371.0 L126.87 370.0 L127.05 369.0 L127.24 368.0 L127.43 367.0 L127.62 366.0 L127.81 365.0 L128.00 364.0 L128.19 363.0 L128.39 362.0 L128.58 361.0 L128.77 360.0 L128.96 359.0 L129.16 358.0 L129.35 357.0 L129.55 356.0 L129.75 355.0 L129.94 354.0 L130.14 353.0 L130.34 352.0 L130.54 351.0 L130.74 350.0 L130.94 349.0 L131.14 348.0 L131.34 347.0 L131.54 346.0 L131.74 345.0 L131.95 344.0 L132.15 343.0 L132.36 342.0 L132.57 341.0 L132.77 340.0 L132.98 339.0 L133.19 338.0 L133.40 337.0 L133.61 336.0 L133.82 335.0 L134.03 334.0 L134.25 333.0 L134.46 332.0 L134.67 331.0 L134.89 330.0 L135.11 329.0 L135.32 328.0 L135.54 327.0 L135.76 326.0 L135.98 325.0 L136.21 324.0 L136.43 323.0 L136.65 322.0 L136.88 321.0 L137.10 320.0 L137.33 319.0 L137.55 318.0 L137.78 317.0 L138.01 316.0 L138.24 315.0 L138.48 314.0 L138.71 313.0 L138.94 312.0 L139.18 311.0 L139.41 310.0 L139.65 309.0 L139.89 308.0 L140.13 307.0 L140.37 306.0 L140.61 305.0 L140.86 304.0 L141.10 303.0 L141.35 302.0 L141.59 301.0 L141.84 300.0 L142.09 299.0 L142.34 298.0 L142.59 297.0 L142.84 296.0 L143.10 295.0 L143.35 294.0 L143.61 293.0 L143.87 292.0 L144.13 291.0 L144.39 290.0 L144.65 289.0 L144.92 288.0 L145.18 287.0 L145.45 286.0 L145.71 285.0 L145.98 284.0 L146.25 283.0 L146.53 282.0 L146.80 281.0 L147.07 280.0 L147.35 279.0 L147.63 278.0 L147.91 277.0 L148.19 276.0 L148.47 275.0 L148.75 274.0 L149.04 273.0 L149.32 272.0 L149.61 271.0 L149.90 270.0 L150.19 269.0 L150.48 268.0 L150.78 267.0 L151.07 266.0 L151.37 265.0 L151.67 264.0 L151.96 263.0 L152.26 262.0 L152.57 261.0 L152.87 260.0 L153.17 259.0 L153.48 258.0 L153.79 257.0 L154.09 256.0 L154.40 255.0 L154.71 254.0 L155.03 253.0 L155.34 252.0 L155.66 251.0 L155.97 250.0 L156.29 249.0 L156.61 248.0 L156.93 247.0 L157.25 246.0 L157.57 245.0 L157.90 244.0 L158.22 243.0 L158.55 242.0 L158.88 241.0 L159.21 240.0 L159.54 239.0 L159.87 238.0 L160.20 237.0 L160.53 236.0 L160.87 235.0 L161.21 234.0 L161.54 233.0 L161.88 232.0 L162.22 231.0 L162.57 230.0 L162.91 229.0 L163.25 228.0 L163.60 227.0 L163.94 226.0 L164.29 225.0 L164.64 224.0 L164.99 223.0 L165.34 222.0 L165.69 221.0 L166.05 220.0 L166.40 219.0 L166.76 218.0 L167.11 217.0 L167.47 216.0 L167.83 215.0 L168.19 214.0 L168.55 213.0 L168.92 212.0 L169.28 211.0 L169.65 210.0 L170.01 209.0 L170.38 208.0 L170.75 207.0 L171.12 206.0 L171.49 205.0 L171.87 204.0 L172.24 203.0 L172.62 202.0 L173.00 201.0 L173.38 200.0 L173.76 199.0 L174.15 198.0 L174.53 197.0 L174.92 196.0 L175.31 195.0 L175.70 194.0 L176.09 193.0 L176.49 192.0 L176.88 191.0 L177.28 190.0 L177.68 189.0 L178.09 188.0 L178.49 187.0 L178.90 186.0 L179.31 185.0 L179.72 184.0 L180.14 183.0 L180.55 182.0 L180.97 181.0 L181.39 180.0 L181.82 179.0 L182.24 178.0 L182.67 177.0 L183.10 176.0 L183.54 175.0 L183.98 174.0 L184.42 173.0 L184.86 172.0 L185.30 171.0 L185.75 170.0 L186.20 169.0 L186.65 168.0 L187.11 167.0 L187.57 166.0 L188.03 165.0 L188.50 164.0 L188.96 163.0 L189.44 162.0 L189.91 161.0 L190.27 160.2 L190.63 159.5 L190.99 158.8 L191.35 158.0 L191.72 157.2 L192.09 156.5 L192.46 155.8 L192.83 155.0 L193.21 154.2 L193.59 153.5 L193.97 152.8 L194.35 152.0 L194.74 151.2 L195.14 150.5 L195.53 149.8 L195.94 149.0 L196.34 148.2 L196.76 147.5 L197.18 146.8 L197.61 146.0 L198.04 145.2 L198.48 144.5 L198.92 143.8 L199.37 143.0 L199.82 142.2 L200.28 141.5 L200.74 140.8 L201.20 140.0 L201.67 139.2 L202.15 138.5 L202.63 137.8 L203.11 137.0 L203.60 136.2 L204.10 135.5 L204.59 134.8 L205.10 134.0 L205.61 133.2 L206.12 132.5 L206.64 131.8 L207.17 131.0 L207.70 130.2 L208.24 129.5 L208.79 128.8 L209.34 128.0 L209.91 127.2 L210.48 126.5 L211.06 125.8 L211.65 125.0 L212.25 124.2 L212.86 123.5 L213.48 122.8 L214.11 122.0 L214.76 121.2 L215.41 120.5 L216.08 119.8 L216.76 119.0 L217.45 118.2 L218.25 117.4 L219.09 116.5 L219.93 115.7 L220.77 114.8 L221.61 114.0 L222.45 113.2 L223.28 112.4 L224.12 111.6 L224.96 110.8 L225.80 110.0 L226.64 109.3 L227.48 108.5 L228.32 107.8 L229.15 107.0 L229.99 106.3 L230.83 105.6 L231.67 104.9 L232.51 104.2 L233.35 103.6 L234.18 102.9 L235.02 102.3 L235.86 101.6 L236.70 101.0 L237.54 100.4 L238.38 99.8 L239.22 99.3 L240.05 98.7 L240.89 98.2 L241.73 97.6 L242.57 97.1 L243.41 96.6 L244.25 96.1 L245.08 95.7 L246.20 95.1 L247.32 94.5 L248.44 93.9 L249.56 93.4 L250.67 92.9 L251.79 92.4 L252.91 91.9 L254.03 91.5 L255.15 91.1 L256.26 90.7 L257.38 90.3 L258.50 90.0 L259.62 89.6 L260.74 89.3 L261.85 89.0 L262.97 88.7 L264.09 88.5 L265.21 88.2 L266.33 88.0 L267.44 87.8 L268.56 87.6 L269.68 87.4 L270.80 87.2 L271.92 87.0 L273.03 86.9 L274.15 86.8 L275.27 86.6 L276.39 86.5 L277.51 86.4 L278.62 86.3 L279.74 86.2 L280.86 86.2 L281.98 86.1 L283.09 86.1 L284.21 86.0 L285.33 86.0 L286.45 85.9 L287.57 85.9 L288.68 85.9 L289.80 85.9 L290.92 85.9 L292.04 85.9 L293.16 86.0 L294.27 86.0 L295.39 86.0 L296.51 86.1 L297.63 86.1 L298.75 86.2 L299.86 86.2 L300.98 86.3 L302.10 86.4 L303.22 86.5 L304.34 86.6 L305.45 86.7 L306.57 86.8 L307.69 86.9 L308.81 87.0 L309.93 87.2 L311.04 87.3 L312.16 87.5 L313.28 87.6 L314.40 87.8 L315.52 88.0 L316.63 88.1 L317.75 88.3 L318.87 88.5 L319.99 88.8 L321.11 89.0 L322.22 89.2 L323.34 89.5 L324.46 89.7 L325.58 90.0 L326.69 90.2 L327.81 90.5 L328.93 90.8 L330.05 91.1 L331.17 91.4 L332.28 91.7 L333.40 92.0 L334.52 92.3 L335.64 92.6 L336.76 93.0 L337.87 93.3 L338.99 93.7 L340.11 94.0 L341.23 94.4 L342.35 94.7 L343.46 95.1 L344.58 95.5 L345.70 95.9 L346.82 96.2 L347.94 96.6 L349.05 97.0 L350.17 97.4 L351.29 97.8 L352.41 98.2 L353.53 98.6 L354.64 99.0 L355.76 99.5 L356.88 99.9 L358.00 100.3 L359.12 100.7 L360.23 101.1 L361.35 101.6 L362.47 102.0 L363.59 102.4 L364.71 102.8 L365.82 103.3 L366.94 103.7 L368.06 104.1 L369.18 104.6 L370.29 105.0 L371.41 105.4 L372.53 105.9 L373.65 106.3 L374.77 106.8 L375.88 107.2 L377.00 107.6 L378.12 108.1 L379.24 108.5 L380.36 109.0 L381.47 109.4 L382.59 109.8 L383.71 110.3 L384.83 110.7 L385.95 111.2 L387.06 111.6 L388.18 112.1 L389.30 112.5 L390.42 112.9 L391.54 113.4 L392.65 113.8 L393.77 114.3 L394.89 114.7 L396.01 115.2 L397.13 115.6 L398.24 116.1 L399.36 116.5 L400.48 117.0 L401.60 117.4 L402.72 117.8 L403.83 118.3 L404.95 118.7 L406.07 119.2 L407.19 119.6 L408.31 120.1 L409.42 120.5 L410.54 121.0 L411.66 121.4 L412.78 121.9 L413.89 122.3 L415.01 122.8 L416.13 123.2 L417.25 123.6 L418.37 124.1 L419.48 124.5 L420.60 125.0 L421.72 125.4 L422.84 125.9 L423.96 126.3 L425.07 126.7 L426.19 127.2 L427.31 127.6 L428.43 128.1 L429.55 128.5 L430.66 128.9 L431.78 129.4 L432.90 129.8 L434.02 130.3 L435.14 130.7 L436.25 131.1 L437.37 131.6 L438.49 132.0 L439.61 132.4 L440.73 132.9 L441.84 133.3 L442.96 133.7 L444.08 134.2 L445.20 134.6 L446.32 135.0 L447.43 135.4 L448.55 135.9 L449.67 136.3 L450.79 136.7 L451.91 137.1 L453.02 137.5 L454.14 138.0 L455.26 138.4 L456.38 138.8 L457.49 139.2 L458.61 139.6 L459.73 140.1 L460.85 140.5 L461.97 140.9 L463.08 141.3 L464.20 141.7 L465.32 142.1 L466.44 142.5 L467.56 142.9 L468.67 143.3 L469.79 143.7 L470.91 144.1 L472.03 144.5 L473.15 144.9 L474.26 145.3 L475.38 145.7 L476.50 146.1 L477.62 146.5 L478.74 146.9 L479.85 147.3 L480.97 147.7 L482.09 148.1 L483.21 148.5 L484.33 148.9 L485.44 149.3 L486.56 149.6 L487.68 150.0 L488.80 150.4 L489.92 150.8 L491.03 151.2 L492.15 151.5 L493.27 151.9 L494.39 152.3 L495.51 152.7 L496.62 153.0 L497.74 153.4 L498.86 153.8 L499.98 154.1 L501.09 154.5 L502.21 154.9 L503.33 155.2 L504.45 155.6 L505.57 156.0 L506.68 156.3 L507.80 156.7 L508.92 157.0 L510.04 157.4 L511.16 157.7 L512.27 158.1 L513.39 158.4 L514.51 158.8 L515.63 159.1 L516.75 159.5 L517.86 159.8 L518.98 160.2 L520.10 160.5 L521.22 160.8 L522.34 161.2 L523.45 161.5 L524.57 161.9 L525.69 162.2 L526.81 162.5 L527.93 162.8 L529.04 163.2 L530.16 163.5 L531.28 163.8 L532.40 164.1 L533.52 164.5 L534.63 164.8 L535.75 165.1 L536.87 165.4 L537.99 165.7 L539.11 166.0 L540.22 166.3 L541.34 166.6 L542.46 166.9 L543.58 167.2 L544.69 167.6 L545.81 167.8 L546.93 168.1 L548.05 168.4 L549.17 168.7 L550.28 169.0 L551.40 169.3 L552.52 169.6 L553.64 169.9 L554.76 170.2 L555.87 170.5 L556.99 170.7 L558.11 171.0 L559.23 171.3 L560.35 171.6 L561.46 171.8 L562.58 172.1 L563.70 172.4 L564.82 172.6 L565.94 172.9 L567.05 173.2 L568.17 173.4 L569.29 173.7 L570.41 173.9 L571.53 174.2 L572.64 174.5 L573.76 174.7 L574.88 175.0 L576.00 175.2 L577.12 175.5 L578.23 175.7 L579.35 175.9 L580.47 176.2 L581.59 176.4 L582.71 176.7 L583.82 176.9 L584.94 177.1 L586.06 177.4 L587.18 177.6 L588.29 177.8 L589.41 178.1 L590.53 178.3 L591.65 178.5 L592.77 178.7 L593.88 178.9 L595.00 179.2 L596.12 179.4 L597.24 179.6 L598.36 179.8 L599.47 180.0 L600.59 180.2 L601.71 180.5 L602.83 180.7 L603.95 180.9 L605.06 181.1 L606.18 181.3 L607.30 181.5 L608.42 181.7 L609.54 181.9 L610.65 182.1 L611.77 182.3 L612.89 182.5 L614.01 182.7 L615.13 182.9 L616.24 183.1 L617.36 183.2 L618.48 183.4 L619.60 183.6 L620.72 183.8 L621.83 184.0 L622.95 184.2 L624.07 184.4 L625.19 184.5 L626.31 184.7 L627.42 184.9 L628.54 185.1 L629.66 185.3 L630.78 185.4 L631.89 185.6 L633.01 185.8 L634.13 185.9 L635.25 186.1 L636.37 186.3 L637.48 186.5 L638.60 186.6 L639.72 186.8 L640.84 187.0 L641.96 187.1 L643.07 187.3 L644.19 187.4 L645.31 187.6 L646.43 187.8 L647.55 187.9 L648.66 188.1 L649.78 188.2 L650.90 188.4 L652.02 188.5 L653.14 188.7 L654.25 188.8 L655.37 189.0 L656.49 189.1 L657.61 189.3 L658.73 189.4 L659.84 189.6 L660.96 189.7 L662.08 189.9 L663.20 190.0 L664.32 190.2 L665.43 190.3 L666.55 190.5 L667.67 190.6 L668.79 190.7 L669.91 190.9 L671.02 191.0 L672.14 191.2 L673.26 191.3 L674.38 191.4 L675.49 191.6 L676.61 191.7 L677.73 191.8 L678.85 192.0 L679.97 192.1 L681.08 192.2 L682.20 192.4 L683.32 192.5 L684.44 192.6 L685.56 192.7 L686.67 192.9 L687.79 193.0 L688.91 193.1 L690.03 193.2 L691.15 193.4 L692.26 193.5 L693.38 193.6 L694.50 193.7 L695.62 193.9 L696.74 194.0 L697.85 194.1 L698.97 194.2 L700.09 194.3 L701.21 194.4 L702.33 194.5 L703.44 194.7 L704.56 194.8 L705.68 194.9 L706.80 195.0 L707.92 195.1 L709.03 195.2 L710.15 195.3 L711.27 195.4" stroke="#00f" stroke-dasharray="14.6 4.6 4.6 4.6"/>
<path d="M108.97 470.0 L109.16 469.0 L109.35 468.0 L109.54 467.0 L109.73 466.0 L109.92 465.0 L110.10 464.0 L110.29 463.0 L110.48 462.0 L110.66 461.0 L110.85 460.0 L111.03 459.0 L111.22 458.0 L111.40 457.0 L111.58 456.0 L111.77 455.0 L111.95 454.0 L112.13 453.0 L112.32 452.0 L112.50 451.0 L112.68 450.0 L112.86 449.0 L113.04 448.0 L113.22 447.0 L113.40 446.0 L113.58 445.0 L113.77 444.0 L113.95 443.0 L114.13 442.0 L114.30 441.0 L114.48 440.0 L114.66 439.0 L114.84 438.0 L115.02 437.0 L115.20 436.0 L115.38 435.0 L115.56 434.0 L115.74 433.0 L115.91 432.0 L116.09 431.0 L116.27 430.0 L116.45 429.0 L116.63 428.0 L116.80 427.0 L116.98 426.0 L117.16 425.0 L117.34 424.0 L117.51 423.0 L117.69 422.0 L117.87 421.0 L118.05 420.0 L118.22 419.0 L118.40 418.0 L118.58 417.0 L118.76 416.0 L118.94 415.0 L119.11 414.0 L119.29 413.0 L119.47 412.0 L119.65 411.0 L119.83 410.0 L120.00 409.0 L120.18 408.0 L120.36 407.0 L120.54 406.0 L120.72 405.0 L120.90 404.0 L121.08 403.0 L121.26 402.0 L121.44 401.0 L121.62 400.0 L121.80 399.0 L121.98 398.0 L122.16 397.0 L122.34 396.0 L122.52 395.0 L122.70 394.0 L122.88 393.0 L123.06 392.0 L123.24 391.0 L123.43 390.0 L123.61 389.0 L123.79 388.0 L123.98 387.0 L124.16 386.0 L124.34 385.0 L124.53 384.0 L124.71 383.0 L124.90 382.0 L125.08 381.0 L125.27 380.0 L125.46 379.0 L125.64 378.0 L125.83 377.0 L126.02 376.0 L126.21 375.0 L126.39 374.0 L126.58 373.0 L126.77 372.0 L126.96 371.0 L127.15 370.0 L127.34 369.0 L127.54 368.0 L127.73 367.0 L127.92 366.0 L128.11 365.0 L128.31 364.0 L128.50 363.0 L128.70 362.0 L128.89 361.0 L129.09 360.0 L129.29 359.0 L129.48 358.0 L129.68 357.0 L129.88 356.0 L130.08 355.0 L130.28 354.0 L130.48 353.0 L130.68 352.0 L130.88 351.0 L131.09 350.0 L131.29 349.0 L131.49 348.0 L131.70 347.0 L131.90 346.0 L132.11 345.0 L132.32 344.0 L132.53 343.0 L132.73 342.0 L132.94 341.0 L133.15 340.0 L133.37 339.0 L133.58 338.0 L133.79 337.0 L134.00 336.0 L134.22 335.0 L134.44 334.0 L134.65 333.0 L134.87 332.0 L135.09 331.0 L135.31 330.0 L135.53 329.0 L135.75 328.0 L135.97 327.0 L136.19 326.0 L136.42 325.0 L136.64 324.0 L136.87 323.0 L137.10 322.0 L137.32 321.0 L137.55 320.0 L137.78 319.0 L138.01 318.0 L138.25 317.0 L138.48 316.0 L138.71 315.0 L138.95 314.0 L139.19 313.0 L139.42 312.0 L139.66 311.0 L139.90 310.0 L140.14 309.0 L140.39 308.0 L140.63 307.0 L140.87 306.0 L141.12 305.0 L141.37 304.0 L141.62 303.0 L141.86 302.0 L142.12 301.0 L142.37 300.0 L142.62 299.0 L142.88 298.0 L143.13 297.0 L143.39 296.0 L143.65 295.0 L143.91 294.0 L144.17 293.0 L144.43 292.0 L144.69 291.0 L144.96 290.0 L145.23 289.0 L145.49 288.0 L145.76 287.0 L146.03 286.0 L146.30 285.0 L146.58 284.0 L146.85 283.0 L147.13 282.0 L147.41 281.0 L147.69 280.0 L147.97 279.0 L148.25 278.0 L148.53 277.0 L148.82 276.0 L149.10 275.0 L149.39 274.0 L149.68 273.0 L149.97 272.0 L150.27 271.0 L150.56 270.0 L150.85 269.0 L151.15 268.0 L151.45 267.0 L151.75 266.0 L152.05 265.0 L152.35 264.0 L152.65 263.0 L152.96 262.0 L153.27 261.0 L153.57 260.0 L153.88 259.0 L154.19 258.0 L154.51 257.0 L154.82 256.0 L155.13 255.0 L155.45 254.0 L155.77 253.0 L156.09 252.0 L156.41 251.0 L156.73 250.0 L157.05 249.0 L157.37 248.0 L157.70 247.0 L158.03 246.0 L158.35 245.0 L158.68 244.0 L159.01 243.0 L159.34 242.0 L159.68 241.0 L160.01 240.0 L160.35 239.0 L160.68 238.0 L161.02 237.0 L161.36 236.0 L161.70 235.0 L162.05 234.0 L162.39 233.0 L162.73 232.0 L163.08 231.0 L163.43 230.0 L163.77 229.0 L164.12 228.0 L164.47 227.0 L164.83 226.0 L165.18 225.0 L165.53 224.0 L165.89 223.0 L166.25 222.0 L166.60 221.0 L166.96 220.0 L167.32 219.0 L167.69 218.0 L168.05 217.0 L168.41 216.0 L168.78 215.0 L169.14 214.0 L169.51 213.0 L169.88 212.0 L170.25 211.0 L170.62 210.0 L170.99 209.0 L171.37 208.0 L171.74 207.0 L172.12 206.0 L172.50 205.0 L172.88 204.0 L173.26 203.0 L173.64 202.0 L174.03 201.0 L174.41 200.0 L174.80 199.0 L175.19 198.0 L175.58 197.0 L175.98 196.0 L176.37 195.0 L176.77 194.0 L177.17 193.0 L177.57 192.0 L177.97 191.0 L178.38 190.0 L178.79 189.0 L179.20 188.0 L179.61 187.0 L180.02 186.0 L180.44 185.0 L180.86 184.0 L181.28 183.0 L181.70 182.0 L182.13 181.0 L182.56 180.0 L182.99 179.0 L183.42 178.0 L183.86 177.0 L184.30 176.0 L184.74 175.0 L185.18 174.0 L185.63 173.0 L186.08 172.0 L186.53 171.0 L186.98 170.0 L187.44 169.0 L187.90 168.0 L188.36 167.0 L188.83 166.0 L189.30 165.0 L189.77 164.0 L190.25 163.0 L190.61 162.2 L190.97 161.5 L191.33 160.8 L191.69 160.0 L192.06 159.2 L192.43 158.5 L192.80 157.8 L193.17 157.0 L193.55 156.2 L193.92 155.5 L194.30 154.8 L194.69 154.0 L195.07 153.2 L195.46 152.5 L195.86 151.8 L196.25 151.0 L196.65 150.2 L197.06 149.5 L197.47 148.8 L197.89 148.0 L198.31 147.2 L198.74 146.5 L199.18 145.8 L199.62 145.0 L200.06 144.2 L200.52 143.5 L200.97 142.8 L201.43 142.0 L201.90 141.2 L202.37 140.5 L202.84 139.8 L203.32 139.0 L203.81 138.2 L204.30 137.5 L204.79 136.8 L205.29 136.0 L205.79 135.2 L206.30 134.5 L206.81 133.8 L207.33 133.0 L207.86 132.2 L208.39 131.5 L208.92 130.8 L209.47 130.0 L210.02 129.2 L210.58 128.5 L211.14 127.8 L211.72 127.0 L212.30 126.2 L212.90 125.5 L213.50 124.8 L214.11 124.0 L214.74 123.2 L215.37 122.5 L216.02 121.8 L216.68 121.0 L217.35 120.2 L218.03 119.5 L218.73 118.8 L219.43 118.0 L220.29 117.1 L221.14 116.2 L222.00 115.4 L222.85 114.6 L223.70 113.7 L224.55 112.9 L225.40 112.1 L226.26 111.3 L227.11 110.5 L227.96 109.8 L228.81 109.0 L229.66 108.3 L230.52 107.5 L231.37 106.8 L232.22 106.1 L233.07 105.4 L233.92 104.7 L234.78 104.0 L235.63 103.4 L236.48 102.7 L237.33 102.1 L238.18 101.4 L239.03 100.8 L239.89 100.2 L240.74 99.6 L241.59 99.1 L242.44 98.5 L243.29 98.0 L244.15 97.5 L245.00 97.0 L245.85 96.5 L246.70 96.0 L247.55 95.5 L248.41 95.1 L249.54 94.5 L250.68 93.9 L251.81 93.4 L252.95 92.9 L254.09 92.4 L255.22 91.9 L256.36 91.5 L257.49 91.1 L258.63 90.7 L259.76 90.3 L260.90 90.0 L262.04 89.6 L263.17 89.3 L264.31 89.0 L265.44 88.7 L266.58 88.5 L267.72 88.2 L268.85 88.0 L269.99 87.8 L271.12 87.6 L272.26 87.4 L273.40 87.2 L274.53 87.0 L275.67 86.9 L276.80 86.8 L277.94 86.6 L279.08 86.5 L280.21 86.4 L281.35 86.3 L282.48 86.2 L283.62 86.2 L284.75 86.1 L285.89 86.1 L287.03 86.0 L288.16 86.0 L289.30 85.9 L290.43 85.9 L291.57 85.9 L292.71 85.9 L293.84 85.9 L294.98 85.9 L296.11 86.0 L297.25 86.0 L298.39 86.0 L299.52 86.1 L300.66 86.1 L301.79 86.2 L302.93 86.2 L304.06 86.3 L305.20 86.4 L306.34 86.5 L307.47 86.6 L308.61 86.7 L309.74 86.8 L310.88 86.9 L312.02 87.0 L313.15 87.2 L314.29 87.3 L315.42 87.5 L316.56 87.6 L317.70 87.8 L318.83 88.0 L319.97 88.1 L321.10 88.3 L322.24 88.5 L323.38 88.8 L324.51 89.0 L325.65 89.2 L326.78 89.5 L327.92 89.7 L329.05 90.0 L330.19 90.2 L331.33 90.5 L332.46 90.8 L333.60 91.1 L334.73 91.4 L335.87 91.7 L337.01 92.0 L338.14 92.3 L339.28 92.6 L340.41 93.0 L341.55 93.3 L342.69 93.7 L343.82 94.0 L344.96 94.4 L346.09 94.7 L347.23 95.1 L348.36 95.5 L349.50 95.9 L350.64 96.2 L351.77 96.6 L352.91 97.0 L354.04 97.4 L355.18 97.8 L356.32 98.2 L357.45 98.6 L358.59 99.0 L359.72 99.5 L360.86 99.9 L362.00 100.3 L363.13 100.7 L364.27 101.1 L365.40 101.6 L366.54 102.0 L367.68 102.4 L368.81 102.8 L369.95 103.3 L371.08 103.7 L372.22 104.1 L373.35 104.6 L374.49 105.0 L375.63 105.4 L376.76 105.9 L377.90 106.3 L379.03 106.8 L380.17 107.2 L381.31 107.6 L382.44 108.1 L383.58 108.5 L384.71 109.0 L385.85 109.4 L386.99 109.8 L388.12 110.3 L389.26 110.7 L390.39 111.2 L391.53 111.6 L392.66 112.1 L393.80 112.5 L394.94 112.9 L396.07 113.4 L397.21 113.8 L398.34 114.3 L399.48 114.7 L400.62 115.2 L401.75 115.6 L402.89 116.1 L404.02 116.5 L405.16 117.0 L406.30 117.4 L407.43 117.8 L408.57 118.3 L409.70 118.7 L410.84 119.2 L411.98 119.6 L413.11 120.1 L414.25 120.5 L415.38 121.0 L416.52 121.4 L417.65 121.9 L418.79 122.3 L419.93 122.8 L421.06 123.2 L422.20 123.6 L423.33 124.1 L424.47 124.5 L425.61 125.0 L426.74 125.4 L427.88 125.9 L429.01 126.3 L430.15 126.7 L431.29 127.2 L432.42 127.6 L433.56 128.1 L434.69 128.5 L435.83 128.9 L436.96 129.4 L438.10 129.8 L439.24 130.3 L440.37 130.7 L441.51 131.1 L442.64 131.6 L443.78 132.0 L444.92 132.4 L446.05 132.9 L447.19 133.3 L448.32 133.7 L449.46 134.2 L450.60 134.6 L451.73 135.0 L452.87 135.4 L454.00 135.9 L455.14 136.3 L456.28 136.7 L457.41 137.1 L458.55 137.5 L459.68 138.0 L460.82 138.4 L461.95 138.8 L463.09 139.2 L464.23 139.6 L465.36 140.1 L466.50 140.5 L467.63 140.9 L468.77 141.3 L469.91 141.7 L471.04 142.1 L472.18 142.5 L473.31 142.9 L474.45 143.3 L475.59 143.7 L476.72 144.1 L477.86 144.5 L478.99 144.9 L480.13 145.3 L481.26 145.7 L482.40 146.1 L483.54 146.5 L484.67 146.9 L485.81 147.3 L486.94 147.7 L488.08 148.1 L489.22 148.5 L490.35 148.9 L491.49 149.3 L492.62 149.6 L493.76 150.0 L494.90 150.4 L496.03 150.8 L497.17 151.2 L498.30 151.5 L499.44 151.9 L500.58 152.3 L501.71 152.7 L502.85 153.0 L503.98 153.4 L505.12 153.8 L506.25 154.1 L507.39 154.5 L508.53 154.9 L509.66 155.2 L510.80 155.6 L511.93 156.0 L513.07 156.3 L514.21 156.7 L515.34 157.0 L516.48 157.4 L517.61 157.7 L518.75 158.1 L519.89 158.4 L521.02 158.8 L522.16 159.1 L523.29 159.5 L524.43 159.8 L525.56 160.2 L526.70 160.5 L527.84 160.8 L528.97 161.2 L530.11 161.5 L531.24 161.9 L532.38 162.2 L533.52 162.5 L534.65 162.8 L535.79 163.2 L536.92 163.5 L538.06 163.8 L539.20 164.1 L540.33 164.5 L541.47 164.8 L542.60 165.1 L543.74 165.4 L544.88 165.7 L546.01 166.0 L547.15 166.3 L548.28 166.6 L549.42 166.9 L550.55 167.2 L551.69 167.6 L552.83 167.8 L553.96 168.1 L555.10 168.4 L556.23 168.7 L557.37 169.0 L558.51 169.3 L559.64 169.6 L560.78 169.9 L561.91 170.2 L563.05 170.5 L564.19 170.7 L565.32 171.0 L566.46 171.3 L567.59 171.6 L568.73 171.8 L569.86 172.1 L571.00 172.4 L572.14 172.6 L573.27 172.9 L574.41 173.2 L575.54 173.4 L576.68 173.7 L577.82 173.9 L578.95 174.2 L580.09 174.5 L581.22 174.7 L582.36 175.0 L583.50 175.2 L584.63 175.5 L585.77 175.7 L586.90 175.9 L588.04 176.2 L589.18 176.4 L590.31 176.7 L591.45 176.9 L592.58 177.1 L593.72 177.4 L594.85 177.6 L595.99 177.8 L597.13 178.1 L598.26 178.3 L599.40 178.5 L600.53 178.7 L601.67 178.9 L602.81 179.2 L603.94 179.4 L605.08 179.6 L606.21 179.8 L607.35 180.0 L608.49 180.2 L609.62 180.5 L610.76 180.7 L611.89 180.9 L613.03 181.1 L614.16 181.3 L615.30 181.5 L616.44 181.7 L617.57 181.9 L618.71 182.1 L619.84 182.3 L620.98 182.5 L622.12 182.7 L623.25 182.9 L624.39 183.1 L625.52 183.2 L626.66 183.4 L627.80 183.6 L628.93 183.8 L630.07 184.0 L631.20 184.2 L632.34 184.4 L633.48 184.5 L634.61 184.7 L635.75 184.9 L636.88 185.1 L638.02 185.3 L639.15 185.4 L640.29 185.6 L641.43 185.8 L642.56 185.9 L643.70 186.1 L644.83 186.3 L645.97 186.5 L647.11 186.6 L648.24 186.8 L649.38 187.0 L650.51 187.1 L651.65 187.3 L652.79 187.4 L653.92 187.6 L655.06 187.8 L656.19 187.9 L657.33 188.1 L658.46 188.2 L659.60 188.4 L660.74 188.5 L661.87 188.7 L663.01 188.8 L664.14 189.0 L665.28 189.1 L666.42 189.3 L667.55 189.4 L668.69 189.6 L669.82 189.7 L670.96 189.9 L672.10 190.0 L673.23 190.2 L674.37 190.3 L675.50 190.5 L676.64 190.6 L677.78 190.7 L678.91 190.9 L680.05 191.0 L681.18 191.2 L682.32 191.3 L683.45 191.4 L684.59 191.6 L685.73 191.7 L686.86 191.8 L688.00 192.0 L689.13 192.1 L690.27 192.2 L691.41 192.4 L692.54 192.5 L693.68 192.6 L694.81 192.7 L695.95 192.9 L697.09 193.0 L698.22 193.1 L699.36 193.2 L700.49 193.4 L701.63 193.5 L702.76 193.6 L703.90 193.7 L705.04 193.9 L706.17 194.0 L707.31 194.1 L708.44 194.2 L709.58 194.3 L710.72 194.4 L711.85 194.5" stroke="#0ff" stroke-dasharray="12 4.6 4 4 4 4"/>
</g>
<g stroke="#000" stroke-width="1.8" fill="none"><line x1="84.1" y1="199.6" x2="571.8" y2="199.6"/></g>
<g stroke="#000" stroke-width="1.5" fill="none"><line x1="144.27" y1="199.6" x2="144.27" y2="194.3"/><line x1="203.55" y1="199.6" x2="203.55" y2="189.8"/><line x1="262.82" y1="199.6" x2="262.82" y2="194.3"/><line x1="322.1" y1="199.6" x2="322.1" y2="189.8"/><line x1="381.37" y1="199.6" x2="381.37" y2="194.3"/><line x1="440.65" y1="199.6" x2="440.65" y2="189.8"/><line x1="499.92" y1="199.6" x2="499.92" y2="194.3"/><line x1="559.2" y1="199.6" x2="559.2" y2="189.8"/></g>
<g fill="#000"><g transform="translate(77.2 27.2) scale(0.77 1)"><text font-size="28.6" text-anchor="end" >0.02</text></g><g transform="translate(77.2 117.2) scale(0.77 1)"><text font-size="28.6" text-anchor="end" >0.01</text><rect x="-14.65" y="-3.63" width="5.94" height="4.19" fill="#fff"/><rect x="-6.19" y="-3.63" width="5.78" height="4.19" fill="#fff"/></g><g transform="translate(77.2 207.8) scale(0.77 1)"><text font-size="28.6" text-anchor="end" >0.00</text></g><g transform="translate(77.2 298.2) scale(0.77 1)"><text font-size="28.6" text-anchor="end" >-0.01</text><rect x="-14.65" y="-3.63" width="5.94" height="4.19" fill="#fff"/><rect x="-6.19" y="-3.63" width="5.78" height="4.19" fill="#fff"/></g><g transform="translate(77.2 388.4) scale(0.77 1)"><text font-size="28.6" text-anchor="end" >-0.02</text></g><g transform="translate(77.2 478.7) scale(0.77 1)"><text font-size="28.6" text-anchor="end" >-0.03</text></g><g transform="translate(84.5 230.7) scale(0.77 1)"><text font-size="27.5" text-anchor="middle" >0</text></g><g transform="translate(203.55 230.7) scale(0.77 1)"><text font-size="27.5" text-anchor="middle" >1</text><rect x="-6.44" y="-3.49" width="5.71" height="4.03" fill="#fff"/><rect x="1.70" y="-3.49" width="5.56" height="4.03" fill="#fff"/></g><g transform="translate(322.1 230.7) scale(0.77 1)"><text font-size="27.5" text-anchor="middle" >2</text></g><g transform="translate(440.65 230.7) scale(0.77 1)"><text font-size="27.5" text-anchor="middle" >3</text></g><g transform="translate(559.2 230.7) scale(0.77 1)"><text font-size="27.5" text-anchor="middle" >4</text></g>
<g transform="translate(243 272.6) scale(0.82 1)"><text font-size="34.5" text-anchor="start" >T (eV)</text></g>
</g>
<g transform="translate(29.3 262.9) rotate(-90)" fill="#000">
<text transform="scale(1.18 1)" x="0" y="0" font-family="Liberation Serif, serif" font-size="30" stroke="#000" stroke-width="0.25">&#936;</text>
<g transform="translate(30 10.9) scale(0.92 1)"><text font-size="17" text-anchor="start" stroke="#000" stroke-width="0.45">1</text><rect x="0.75" y="-2.16" width="3.53" height="2.49" fill="#fff"/><rect x="5.78" y="-2.16" width="3.44" height="2.49" fill="#fff"/></g>
</g>
<rect x="399" y="247" width="116.5" height="173.9" fill="#000"/>
<rect x="394.3" y="240.5" width="115.7" height="173" fill="#fff" stroke="#000" stroke-width="1"/>
<g fill="#000"><line transform="scale(0.78 1)" x1="519.23" y1="270.5" x2="571.41" y2="270.5" stroke="#000" stroke-width="2.4" /><g transform="translate(475.5 277.5) scale(0.79 1)"><text font-size="19.3" text-anchor="end" >2 m</text></g><g transform="translate(476 285.8) scale(0.85 1)"><text font-size="12.2" text-anchor="start" >e</text></g><line transform="scale(0.78 1)" x1="519.23" y1="298.2" x2="571.41" y2="298.2" stroke="#f00" stroke-width="2.4" stroke-dasharray="12.2 9"/><g transform="translate(475.5 304.7) scale(0.79 1)"><text font-size="19.3" text-anchor="end" >5 m</text></g><g transform="translate(476 313) scale(0.85 1)"><text font-size="12.2" text-anchor="start" >e</text></g><line transform="scale(0.78 1)" x1="519.23" y1="325.2" x2="569.49" y2="325.2" stroke="#0f0" stroke-width="2.4" stroke-dasharray="5.1 7.7"/><g transform="translate(484.3 332.2) scale(0.79 1)"><text font-size="19.3" text-anchor="end" >10 m</text><rect x="-42.06" y="-2.45" width="4.01" height="2.83" fill="#fff"/><rect x="-36.35" y="-2.45" width="3.90" height="2.83" fill="#fff"/></g><g transform="translate(484.8 340.5) scale(0.85 1)"><text font-size="12.2" text-anchor="start" >e</text></g><line transform="scale(0.78 1)" x1="519.23" y1="352.7" x2="571.41" y2="352.7" stroke="#00f" stroke-width="2.4" stroke-dasharray="14.1 4.5 4.5 4.5"/><g transform="translate(484.3 359.4) scale(0.79 1)"><text font-size="19.3" text-anchor="end" >50 m</text></g><g transform="translate(484.8 367.7) scale(0.85 1)"><text font-size="12.2" text-anchor="start" >e</text></g><line transform="scale(0.78 1)" x1="519.23" y1="380.1" x2="571.41" y2="380.1" stroke="#0ff" stroke-width="2.4" stroke-dasharray="11.5 4.5 3.85 3.85 3.85 3.85"/><g transform="translate(492.5 386.6) scale(0.79 1)"><text font-size="19.3" text-anchor="end" >100 m</text><rect x="-52.79" y="-2.45" width="4.01" height="2.83" fill="#fff"/><rect x="-47.08" y="-2.45" width="3.90" height="2.83" fill="#fff"/></g><g transform="translate(493 394.9) scale(0.85 1)"><text font-size="12.2" text-anchor="start" >e</text></g></g>
</svg>
</body></html>
